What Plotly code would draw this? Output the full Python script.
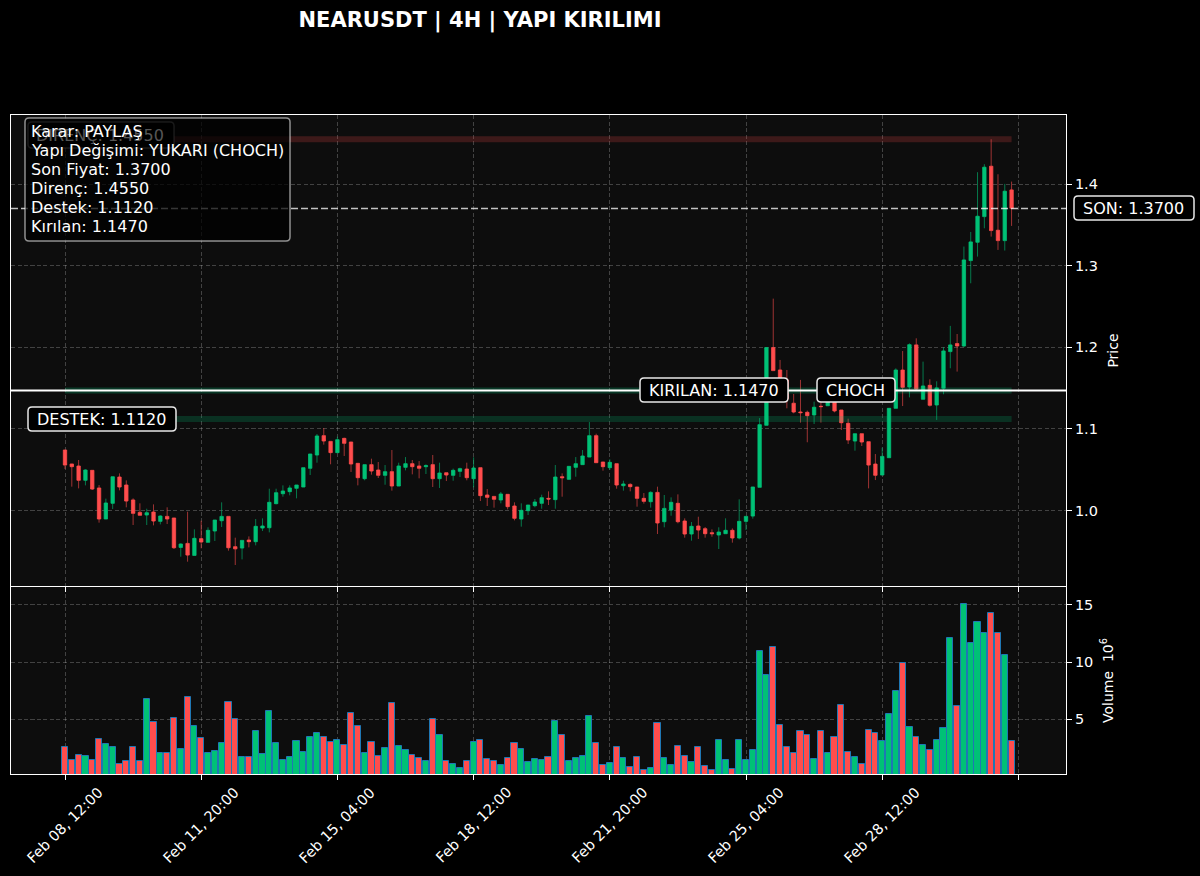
import plotly.graph_objects as go
from plotly.subplots import make_subplots

W, H = 1200, 876

opens = [1.0741, 1.0570, 1.0545, 1.0370, 1.0492, 1.0276, 0.9896, 1.0088, 1.0410, 1.0312,
         1.0129, 0.9977, 0.9945, 0.9981, 0.9867, 0.9928, 0.9908, 0.9548, 0.9597, 0.9450,
         0.9655, 0.9610, 0.9749, 0.9875, 0.9928, 0.9557, 0.9540, 0.9638, 0.9618, 0.9785,
         0.9789, 1.0084, 1.0206, 1.0231, 1.0272, 1.0288, 1.0517, 1.0680, 1.0917, 1.0847,
         1.0709, 1.0884, 1.0839, 1.0578, 1.0390, 1.0562, 1.0496, 1.0431, 1.0476, 1.0300,
         1.0529, 1.0574, 1.0545, 1.0537, 1.0562, 1.0390, 1.0463, 1.0431, 1.0480, 1.0508,
         1.0390, 1.0525, 1.0190, 1.0173, 1.0129, 1.0198, 1.0055, 0.9896, 0.9998, 1.0059,
         1.0088, 1.0149, 1.0133, 1.0414, 1.0382, 1.0529, 1.0562, 1.0655, 1.0917, 1.0594,
         1.0525, 1.0574, 1.0304, 1.0320, 1.0288, 1.0149, 1.0108, 1.0222, 0.9863, 1.0006,
         1.0088, 0.9871, 0.9712, 0.9810, 0.9777, 0.9728, 0.9700, 0.9716, 0.9757, 0.9663,
         0.9867, 0.9932, 1.0284, 1.1044, 1.1996, 1.1722, 1.1600, 1.1314, 1.1207, 1.1203,
         1.1171, 1.1277, 1.1284, 1.1395, 1.1231, 1.1068, 1.0851, 1.0941, 1.0843, 1.0569,
         1.0435, 1.0647, 1.1252, 1.1721, 1.1513, 1.2029, 1.1363, 1.1534, 1.1293, 1.1498,
         1.1947, 1.2045, 1.2016, 1.3062, 1.3287, 1.3601, 1.4218, 1.3434, 1.3307, 1.3928]
highs = [1.0741, 1.0570, 1.0619, 1.0504, 1.0492, 1.0312, 1.0145, 1.0414, 1.0455, 1.0369,
         1.0149, 1.0088, 1.0022, 1.0075, 0.9941, 1.0039, 0.9908, 0.9597, 0.9985, 0.9769,
         0.9875, 0.9794, 0.9883, 1.0100, 0.9928, 0.9667, 0.9634, 0.9683, 0.9896, 0.9904,
         1.0267, 1.0267, 1.0308, 1.0308, 1.0312, 1.0525, 1.0692, 1.0937, 1.1011, 1.0847,
         1.0905, 1.0892, 1.0839, 1.0578, 1.0562, 1.0635, 1.0594, 1.0557, 1.0741, 1.0586,
         1.0655, 1.0619, 1.0606, 1.0566, 1.0680, 1.0586, 1.0463, 1.0513, 1.0525, 1.0586,
         1.0651, 1.0525, 1.0263, 1.0173, 1.0227, 1.0198, 1.0100, 1.0088, 1.0067, 1.0141,
         1.0194, 1.0235, 1.0557, 1.0455, 1.0541, 1.0655, 1.0741, 1.1084, 1.0941, 1.0594,
         1.0627, 1.0574, 1.0365, 1.0333, 1.0288, 1.0214, 1.0235, 1.0292, 1.0190, 1.0161,
         1.0198, 0.9904, 0.9859, 0.9924, 0.9798, 0.9769, 0.9794, 0.9904, 0.9781, 1.0137,
         0.9928, 1.0288, 1.1133, 1.1996, 1.2596, 1.1845, 1.1722, 1.1428, 1.1600, 1.1224,
         1.1334, 1.1400, 1.1410, 1.1416, 1.1231, 1.1125, 1.0941, 1.0941, 1.0843, 1.0692,
         1.0770, 1.1252, 1.1742, 1.1954, 1.2048, 1.2110, 1.1824, 1.1608, 1.1583, 1.2000,
         1.2262, 1.2163, 1.3234, 1.3413, 1.4145, 1.4243, 1.4549, 1.4120, 1.4002, 1.4030]
lows = [1.0508, 1.0292, 1.0271, 1.0308, 1.0251, 0.9851, 0.9896, 1.0018, 1.0247, 1.0039,
        0.9822, 0.9941, 0.9822, 0.9818, 0.9830, 0.9834, 0.9528, 0.9434, 0.9373, 0.9450,
        0.9536, 0.9610, 0.9626, 0.9798, 0.9508, 0.9332, 0.9401, 0.9548, 0.9573, 0.9749,
        0.9732, 1.0075, 1.0169, 1.0186, 1.0149, 1.0288, 1.0435, 1.0586, 1.0807, 1.0566,
        1.0709, 1.0668, 1.0472, 1.0308, 1.0370, 1.0439, 1.0398, 1.0316, 1.0243, 1.0300,
        1.0492, 1.0443, 1.0394, 1.0447, 1.0288, 1.0276, 1.0361, 1.0365, 1.0410, 1.0370,
        1.0284, 1.0116, 1.0055, 1.0035, 1.0088, 1.0014, 0.9879, 0.9802, 0.9945, 1.0039,
        1.0022, 1.0067, 1.0022, 1.0169, 1.0374, 1.0414, 1.0562, 1.0655, 1.0586, 1.0488,
        1.0496, 1.0267, 1.0243, 1.0235, 1.0047, 1.0084, 1.0035, 0.9712, 0.9794, 0.9936,
        0.9843, 0.9667, 0.9630, 0.9651, 0.9667, 0.9679, 0.9528, 0.9716, 0.9606, 0.9646,
        0.9761, 0.9900, 1.0284, 1.1044, 1.1714, 1.1600, 1.1252, 1.1191, 1.1077, 1.0836,
        1.1060, 1.1077, 1.1284, 1.1203, 1.0986, 1.0815, 1.0733, 1.0790, 1.0271, 1.0373,
        1.0435, 1.0647, 1.1252, 1.1280, 1.1386, 1.1480, 1.1363, 1.1273, 1.1110, 1.1424,
        1.1743, 1.1702, 1.2000, 1.2784, 1.3111, 1.3458, 1.3356, 1.3193, 1.3185, 1.3487]
closes = [1.0557, 1.0537, 1.0370, 1.0496, 1.0263, 0.9896, 1.0092, 1.0414, 1.0288, 1.0116,
          0.9965, 0.9941, 0.9973, 0.9871, 0.9932, 0.9896, 0.9544, 0.9589, 0.9454, 0.9659,
          0.9614, 0.9757, 0.9883, 0.9928, 0.9544, 0.9530, 0.9634, 0.9618, 0.9806, 0.9810,
          1.0100, 1.0218, 1.0239, 1.0276, 1.0312, 1.0525, 1.0692, 1.0913, 1.0852, 1.0709,
          1.0868, 1.0823, 1.0570, 1.0402, 1.0562, 1.0484, 1.0431, 1.0476, 1.0300, 1.0545,
          1.0574, 1.0537, 1.0517, 1.0549, 1.0390, 1.0459, 1.0435, 1.0492, 1.0513, 1.0402,
          1.0521, 1.0182, 1.0161, 1.0137, 1.0202, 1.0047, 0.9904, 1.0002, 1.0067, 1.0104,
          1.0157, 1.0141, 1.0410, 1.0402, 1.0541, 1.0574, 1.0668, 1.0917, 1.0586, 1.0537,
          1.0590, 1.0312, 1.0325, 1.0292, 1.0149, 1.0112, 1.0222, 0.9847, 1.0026, 1.0100,
          0.9863, 0.9712, 0.9806, 0.9761, 0.9716, 0.9716, 0.9736, 0.9757, 0.9663, 0.9867,
          0.9928, 1.0288, 1.1052, 1.1996, 1.1714, 1.1620, 1.1370, 1.1207, 1.1199, 1.1162,
          1.1265, 1.1273, 1.1390, 1.1220, 1.1076, 1.0864, 1.0941, 1.0839, 1.0557, 1.0431,
          1.0663, 1.1252, 1.1721, 1.1509, 1.2032, 1.1488, 1.1526, 1.1289, 1.1502, 1.1955,
          1.2029, 1.2016, 1.3070, 1.3291, 1.3605, 1.4206, 1.3430, 1.3307, 1.3912, 1.3703]
volumes = [2.60, 1.41, 1.90, 1.79, 1.47, 3.29, 2.80, 2.60, 1.12, 1.38,
           2.54, 1.38, 6.77, 4.74, 2.02, 2.02, 5.12, 2.39, 6.92, 4.42,
           3.35, 2.07, 2.19, 2.94, 6.48, 5.00, 1.67, 1.73, 3.96, 1.99,
           5.73, 2.94, 1.47, 1.73, 3.09, 2.16, 3.49, 3.84, 3.44, 3.03,
           3.15, 2.77, 5.58, 4.42, 2.02, 3.03, 1.81, 2.51, 6.42, 2.68,
           2.34, 1.87, 1.64, 1.32, 5.00, 3.61, 1.32, 1.09, 0.77, 1.32,
           3.03, 3.23, 1.52, 1.38, 1.03, 1.58, 2.94, 2.39, 1.29, 1.52,
           1.47, 1.67, 4.89, 3.64, 1.32, 1.64, 1.79, 5.32, 2.97, 1.00,
           1.15, 2.60, 1.58, 0.83, 1.67, 0.60, 0.77, 4.71, 1.64, 1.03,
           2.65, 1.79, 1.29, 2.60, 0.92, 0.57, 3.18, 1.44, 0.66, 3.21,
           1.44, 2.34, 11.00, 8.86, 11.29, 4.51, 2.54, 2.05, 3.99, 3.64,
           1.52, 3.96, 2.05, 3.41, 6.25, 2.13, 1.67, 1.06, 4.10, 3.76,
           3.09, 5.47, 7.47, 9.93, 4.37, 3.44, 2.77, 2.28, 3.21, 4.25,
           12.10, 6.16, 15.09, 11.64, 13.47, 12.51, 14.25, 12.51, 10.63, 3.09]

tick_pos = [0, 20, 40, 60, 80, 100, 120, 140]
tick_labels = ["Feb 08, 12:00", "Feb 11, 20:00", "Feb 15, 04:00", "Feb 18, 12:00",
               "Feb 21, 20:00", "Feb 25, 04:00", "Feb 28, 12:00"]

son = 1.37
direnc = 1.455
destek = 1.112
kirilan = 1.147

GREEN = "#00c176"
RED = "#ff4d4d"
GRID = dict(showgrid=True, gridcolor="rgba(255,255,255,0.22)", griddash="4px,2.5px", gridwidth=1)
TICKFONT = dict(family="DejaVu Sans", size=14.5, color="white")

idx = list(range(len(opens)))
body_top = [max(o, c) for o, c in zip(opens, closes)]
body_bot = [min(o, c) for o, c in zip(opens, closes)]
bar_colors = [GREEN if c >= o else RED for o, c in zip(opens, closes)]

fig = make_subplots(rows=2, cols=1, shared_xaxes=True)

# levels under the candles
fig.add_trace(go.Scatter(x=[idx[0], idx[-1]], y=[direnc, direnc], mode="lines",
                         line=dict(color="rgba(255,77,77,0.2)", width=6)), row=1, col=1)
fig.add_trace(go.Scatter(x=[idx[0], idx[-1]], y=[destek, destek], mode="lines",
                         line=dict(color="rgba(0,193,118,0.2)", width=6)), row=1, col=1)
fig.add_trace(go.Scatter(x=[idx[0], idx[-1]], y=[kirilan, kirilan], mode="lines",
                         line=dict(color="rgba(0,193,118,0.25)", width=6)), row=1, col=1)

# wicks first (dimmer), then the bodies without wicks
fig.add_trace(go.Candlestick(x=idx, open=opens, high=highs, low=lows, close=closes,
                             increasing=dict(line=dict(color="rgba(0,193,118,0.6)", width=1),
                                             fillcolor="rgba(0,0,0,0)"),
                             decreasing=dict(line=dict(color="rgba(255,77,77,0.6)", width=1),
                                             fillcolor="rgba(0,0,0,0)"),
                             whiskerwidth=0), row=1, col=1)
fig.add_trace(go.Candlestick(x=idx, open=opens, high=body_top, low=body_bot, close=closes,
                             increasing=dict(line=dict(color=GREEN, width=0.4), fillcolor=GREEN),
                             decreasing=dict(line=dict(color=RED, width=0.4), fillcolor=RED),
                             whiskerwidth=0), row=1, col=1)

fig.add_trace(go.Bar(x=idx, y=volumes, width=0.9,
                     marker=dict(color=bar_colors, line=dict(color="#1f77b4", width=1))), row=2, col=1)


def px(x):
    return x / W


def py(y):
    return 1 - y / H


def round_box(x0, y0, x1, y1, fill, edge, r=4):
    path = (f"M {px(x0 + r)} {py(y0)} L {px(x1 - r)} {py(y0)} Q {px(x1)} {py(y0)} {px(x1)} {py(y0 + r)} "
            f"L {px(x1)} {py(y1 - r)} Q {px(x1)} {py(y1)} {px(x1 - r)} {py(y1)} "
            f"L {px(x0 + r)} {py(y1)} Q {px(x0)} {py(y1)} {px(x0)} {py(y1 - r)} "
            f"L {px(x0)} {py(y0 + r)} Q {px(x0)} {py(y0)} {px(x0 + r)} {py(y0)} Z")
    return dict(type="path", path=path, xref="paper", yref="paper", layer="above",
                fillcolor=fill, line=dict(color=edge, width=1.5))


shapes = [
    dict(type="line", xref="paper", yref="y", x0=px(11), x1=px(1066), y0=son, y1=son, layer="above",
         line=dict(color="rgba(255,255,255,0.75)", width=1.5, dash="7px,3px")),
    dict(type="line", xref="paper", yref="y", x0=px(11), x1=px(1066), y0=kirilan, y1=kirilan, layer="above",
         line=dict(color="white", width=2)),
    round_box(28, 122, 174, 148, "#000000", "rgba(255,255,255,0.35)"),
    round_box(28, 407, 176, 431, "#000000", "#e8e8e8"),
    round_box(640, 378, 788, 402, "#000000", "#e8e8e8"),
    round_box(817, 378, 895, 402, "#000000", "#e8e8e8"),
    round_box(1074, 196, 1194, 220, "#000000", "#e8e8e8"),
    round_box(25, 118, 290, 241, "rgba(0,0,0,0.72)", "rgba(255,255,255,0.55)"),
]


def label(text, x, y, color="white", anchor="center"):
    return dict(text=text, x=px(x), y=py(y), xref="paper", yref="paper", showarrow=False,
                xanchor=anchor, yanchor="middle",
                font=dict(family="DejaVu Sans", size=16, color=color))


info = ["Karar: PAYLAŞ", "Yapı Değişimi: YUKARI (CHOCH)", "Son Fiyat: 1.3700",
        "Direnç: 1.4550", "Destek: 1.1120", "Kırılan: 1.1470"]

annotations = [
    label("DIRENÇ: 1.4550", 100, 135, color="rgba(255,255,255,0.35)"),
    label("DESTEK: 1.1120", 101, 419),
    label("KIRILAN: 1.1470", 714, 390),
    label("CHOCH", 855, 390),
    label("SON: 1.3700", 1133, 208),
]
for n, line in enumerate(info):
    annotations.append(label(line, 29, 131.5 + 18.9 * n, anchor="left"))

# rotated date labels are centred under their ticks
for pos, text in zip(tick_pos, tick_labels):
    annotations.append(dict(text=text, x=pos, xref="x2", y=py(825), yref="paper", showarrow=False,
                            textangle=-45, xanchor="center", yanchor="middle", font=TICKFONT))

fig.update_layout(
    width=W, height=H,
    paper_bgcolor="black", plot_bgcolor="#0d0d0d",
    margin=dict(l=0, r=0, t=0, b=0),
    showlegend=False, bargap=0,
    title=dict(text="<b>NEARUSDT | 4H | YAPI KIRILIMI</b>", x=0.4, xanchor="center",
               y=py(20), yanchor="middle",
               font=dict(family="DejaVu Sans", size=21, color="white")),
    shapes=shapes, annotations=annotations,
)

AXIS_LINE = dict(showline=True, linecolor="white", linewidth=1, mirror=True,
                 ticks="outside", ticklen=5, tickcolor="white", zeroline=False, tickfont=TICKFONT)

fig.update_xaxes(domain=[px(11), px(1066)], range=[-7.93, 146.99],
                 tickmode="array", tickvals=tick_pos, showticklabels=False,
                 rangeslider=dict(visible=False), **AXIS_LINE, **GRID)
fig.update_yaxes(side="right", **AXIS_LINE, **GRID)
fig.update_yaxes(row=1, col=1, domain=[py(586), py(115)], range=[0.9075, 1.4846],
                 tickmode="array", tickvals=[1.0, 1.1, 1.2, 1.3, 1.4], tickformat=".1f",
                 title=dict(text="Price", standoff=11, font=dict(family="DejaVu Sans", size=14, color="white")))
fig.update_yaxes(row=2, col=1, domain=[py(774), py(587)], range=[0.22, 16.56],
                 tickmode="array", tickvals=[5, 10, 15],
                 title=dict(text="Volume  10<sup>6</sup>", standoff=10, font=dict(family="DejaVu Sans", size=14, color="white")))

# the page's default 8px body margin would show as a white frame
fig.write_html("out.html", config={"displayModeBar": False},
               post_script="document.body.style.margin='0';document.body.style.overflow='hidden';")
